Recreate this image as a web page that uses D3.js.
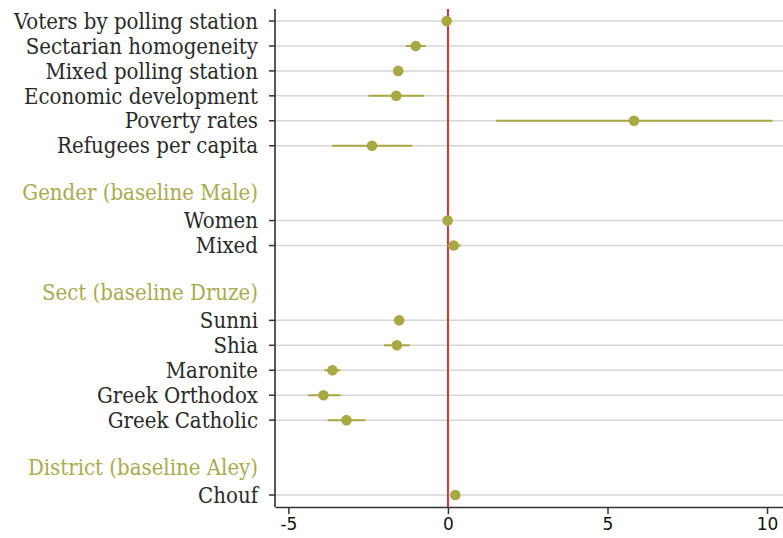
<!DOCTYPE html>
<html>
<head>
<meta charset="utf-8">
<script src="https://cdn.jsdelivr.net/npm/d3@7"></script>
<style>
  body { margin: 0; background: #fff; }
</style>
</head>
<body>
<div id="chart"></div>
<script>
  // Data
  var rows = ["Voters by polling station", "Sectarian homogeneity", "Mixed polling station",
              "Economic development", "Poverty rates", "Refugees per capita", "_gap1",
              "Gender (baseline Male)", "Women", "Mixed", "_gap2",
              "Sect (baseline Druze)", "Sunni", "Shia", "Maronite", "Greek Orthodox", "Greek Catholic", "_gap3",
              "District (baseline Aley)", "Chouf"];
  var headers = ["Gender (baseline Male)", "Sect (baseline Druze)", "District (baseline Aley)"];
  var estRows = ["Voters by polling station", "Sectarian homogeneity", "Mixed polling station",
                 "Economic development", "Poverty rates", "Refugees per capita",
                 "Women", "Mixed", "Sunni", "Shia", "Maronite", "Greek Orthodox", "Greek Catholic", "Chouf"];
  var estimates = [-0.04, -1.01, -1.56, -1.62, 5.83, -2.38, -0.01, 0.18, -1.53, -1.60, -3.62, -3.90, -3.18, 0.23];
  var lower     = [-0.10, -1.32, -1.72, -2.49, 1.51, -3.63, -0.05, -0.02, -1.60, -2.00, -3.87, -4.38, -3.77, 0.15];
  var upper     = [0.02, -0.70, -1.39, -0.74, 10.17, -1.12, 0.03, 0.40, -1.46, -1.20, -3.37, -3.37, -2.59, 0.31];
  var xTicks = [-5, 0, 5, 10];

  var W = 783, H = 538;
  var margin = {top: 9, right: 0, bottom: 31, left: 275};
  var olive = "#a8a845",
      headerColor = "#a9ab4f",
      serif = "'DejaVu Serif Condensed', 'DejaVu Serif', serif",
      sans = "'DejaVu Sans', sans-serif";

  var svg = d3.select("#chart").append("svg")
    .attr("width", W)
    .attr("height", H);

  var x = d3.scaleLinear()
    .domain([-5.42, 10.5])
    .range([margin.left, W]);

  var y = d3.scalePoint()
    .domain(rows)
    .range([21, 495]);

  var bottomY = H - margin.bottom;

  // Gridlines
  svg.append("g").selectAll("line")
    .data(estRows)
    .enter().append("line")
      .attr("x1", margin.left)
      .attr("x2", W)
      .attr("y1", function(d) { return y(d); })
      .attr("y2", function(d) { return y(d); })
      .attr("stroke", "#d6d6d6")
      .attr("stroke-width", 1.5);

  // Zero reference line
  svg.append("line")
    .attr("x1", x(0)).attr("x2", x(0))
    .attr("y1", margin.top).attr("y2", bottomY)
    .attr("stroke", "#d3343a")
    .attr("stroke-width", 2);

  // Axes
  var xAxis = svg.append("g")
    .attr("transform", "translate(0," + bottomY + ")")
    .call(d3.axisBottom(x).tickValues(xTicks).tickSize(7).tickSizeOuter(0).tickPadding(4));
  xAxis.select(".domain").attr("stroke", "#333").attr("stroke-width", 1.5);
  xAxis.selectAll(".tick line").attr("stroke", "#333").attr("stroke-width", 1.5);
  xAxis.selectAll(".tick text")
    .attr("font-family", sans)
    .attr("font-size", "17px")
    .attr("fill", "#111")
    .text(function(d) { return d < 0 ? "-" + Math.abs(d) : d; });

  svg.append("line")
    .attr("x1", margin.left).attr("x2", margin.left)
    .attr("y1", margin.top).attr("y2", bottomY)
    .attr("stroke", "#222")
    .attr("stroke-width", 1.5);

  // Y tick marks and labels
  var yTicks = svg.append("g").selectAll("g")
    .data(estRows)
    .enter().append("g")
      .attr("transform", function(d) { return "translate(0," + y(d) + ")"; });

  yTicks.append("line")
    .attr("x1", margin.left - 6).attr("x2", margin.left)
    .attr("stroke", "#333")
    .attr("stroke-width", 1.5);

  yTicks.append("text")
    .attr("x", margin.left - 17)
    .attr("dy", "0.35em")
    .attr("text-anchor", "end")
    .attr("font-family", serif)
    .attr("font-size", "22px")
    .attr("fill", "#2a2a2a")
    .text(function(d) { return d; });

  svg.append("g").selectAll("text")
    .data(headers)
    .enter().append("text")
      .attr("x", margin.left - 17)
      .attr("y", function(d) { return y(d) - 3; })
      .attr("dy", "0.35em")
      .attr("text-anchor", "end")
      .attr("font-family", serif)
      .attr("font-size", "22px")
      .attr("fill", headerColor)
      .text(function(d) { return d; });

  // Confidence intervals and point estimates
  var est = svg.append("g").selectAll("g")
    .data(estRows)
    .enter().append("g");

  est.append("line")
    .attr("x1", function(d, i) { return x(lower[i]); })
    .attr("x2", function(d, i) { return x(upper[i]); })
    .attr("y1", function(d) { return y(d); })
    .attr("y2", function(d) { return y(d); })
    .attr("stroke", olive)
    .attr("stroke-width", 2);

  est.append("circle")
    .attr("cx", function(d, i) { return x(estimates[i]); })
    .attr("cy", function(d) { return y(d); })
    .attr("r", 5.3)
    .attr("fill", olive);
</script>
</body>
</html>
